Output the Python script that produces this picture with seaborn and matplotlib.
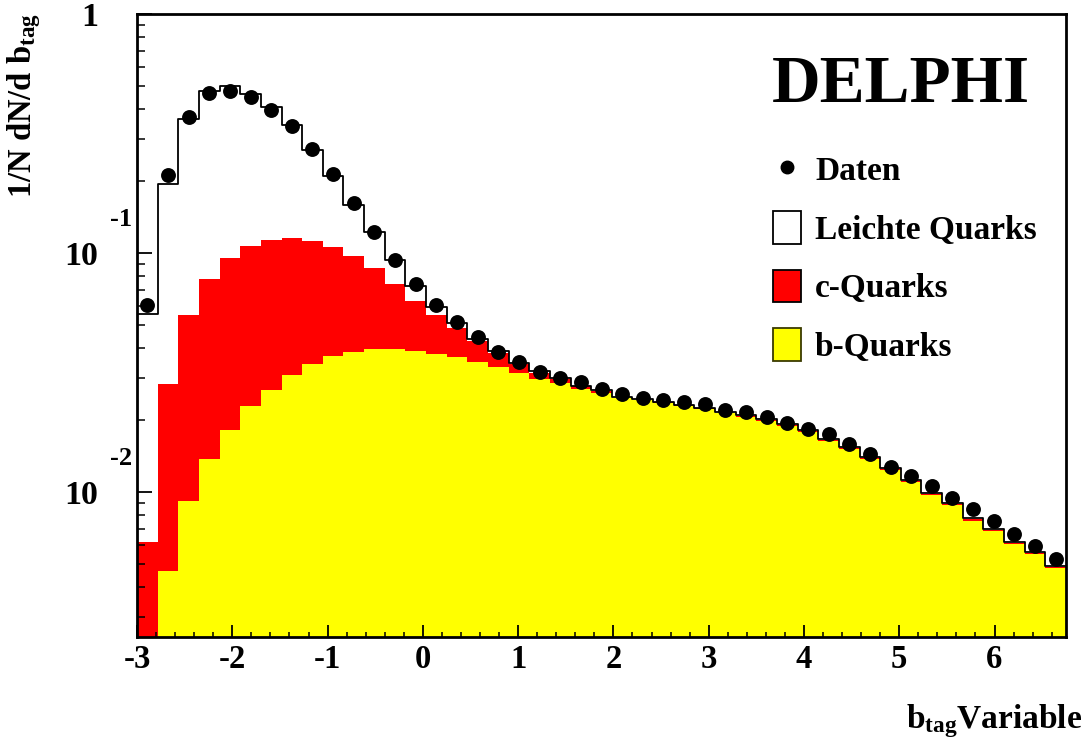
import numpy as np
import pandas as pd
import matplotlib
matplotlib.use("Agg")
import matplotlib.pyplot as plt
import matplotlib.transforms as mtransforms
import seaborn as sns
from matplotlib.lines import Line2D
from matplotlib.patches import Patch
from matplotlib.ticker import FixedLocator, MultipleLocator, NullFormatter

# ---------------- data ----------------
x_min, x_max, n_bins = -3.0, 6.75, 45

b_quarks = [0.0, 0.00467, 0.00917, 0.0137, 0.0181, 0.0228, 0.0268, 0.0308, 0.0342, 0.0370,
            0.0385, 0.0398, 0.0396, 0.0389, 0.0379, 0.0367, 0.0350, 0.0333, 0.0313, 0.0298,
            0.0286, 0.0269, 0.0260, 0.0247, 0.0242, 0.0236, 0.0229, 0.0222, 0.0213, 0.0205,
            0.0198, 0.0188, 0.0178, 0.0164, 0.0151, 0.0137, 0.0124, 0.0110, 0.00971, 0.00882,
            0.00759, 0.00685, 0.00606, 0.00550, 0.00480]

c_quarks = [0.00618, 0.0235, 0.0457, 0.0644, 0.0772, 0.0839, 0.0862, 0.0848, 0.0785, 0.0690,
            0.0584, 0.0465, 0.0344, 0.0241, 0.0170, 0.0119, 0.00784, 0.00497, 0.00316, 0.00166,
            0.00095, 0.00079, 0.00043, 0.00012, 0.00012, 0.00011, 0.00015, 0.00014, 0.00014, 0.00020,
            0.00019, 0.00018, 0.00017, 0.00016, 0.00015, 0.00013, 0.00012, 0.00011, 0.000094, 0.000085,
            0.000074, 0.000066, 0.000059, 0.000053, 0.000046]

light_quarks = [0.0496, 0.166, 0.310, 0.397, 0.403, 0.358, 0.295, 0.226, 0.158, 0.104,
                0.0625, 0.0361, 0.0192, 0.0094, 0.0047, 0.0022, 0.00084, 0.00048, 0.00020, 0.00052,
                0.00028, 0.00010, 0.00025, 0.00012, 0.00011, 0.00011, 0.00015, 0.00014, 0.00014, 0.00020,
                0.00019, 0.00018, 0.00017, 0.00016, 0.00015, 0.00013, 0.00012, 0.00011, 0.000094, 0.000085,
                0.000074, 0.000066, 0.000059, 0.000053, 0.000046]

daten = [0.0604, 0.211, 0.369, 0.465, 0.476, 0.450, 0.398, 0.339, 0.271, 0.214,
         0.162, 0.122, 0.0938, 0.0738, 0.0608, 0.0512, 0.0443, 0.0385, 0.0349, 0.0319,
         0.0299, 0.0288, 0.0269, 0.0258, 0.0247, 0.0243, 0.0237, 0.0233, 0.0221, 0.0215,
         0.0206, 0.0194, 0.0184, 0.0174, 0.0159, 0.0144, 0.0127, 0.0117, 0.0106, 0.00941,
         0.00849, 0.00752, 0.00667, 0.00594, 0.00524]

x_ticks = [-3, -2, -1, 0, 1, 2, 3, 4, 5, 6]
x_tick_labels = ["-3", "-2", "-1", "0", "1", "2", "3", "4", "5", "6"]
y_ticks = [0.01, 0.1, 1.0]
y_tick_labels = ["10", "10", "1"]
y_tick_exponents = ["-2", "-1", ""]
y_limits = (0.00247, 1.0)

legend_labels = ["Daten", "Leichte Quarks", "c-Quarks", "b-Quarks"]
title_text = "DELPHI"
x_title = r"b$_{tag}$Variable"
y_title = r"1/N dN/d b$_{tag}$"

# ---------------- style ----------------
sns.set_style("ticks")
plt.rcParams.update({
    "font.weight": "bold",
    "axes.labelweight": "bold",
    "axes.unicode_minus": False,
    "axes.axisbelow": False,
    "mathtext.fontset": "custom",
    "mathtext.rm": "Liberation Serif:bold",
    "mathtext.it": "Liberation Serif:bold",
    "mathtext.bf": "Liberation Serif:bold",
    "axes.edgecolor": "black",
    "axes.linewidth": 2.0,
    "text.color": "black",
    "axes.labelcolor": "black",
    "xtick.color": "black",
    "ytick.color": "black",
    "xtick.labelcolor": "black",
    "ytick.labelcolor": "black",
})
plt.rcParams["font.family"] = ["Liberation Serif", "DejaVu Serif"]

W, H = 1085, 746
edges = np.linspace(x_min, x_max, n_bins + 1)
centers = 0.5 * (edges[:-1] + edges[1:])
b = np.array(b_quarks)
c = np.array(c_quarks)
l = np.array(light_quarks)
df = pd.DataFrame({
    "center": centers,
    "stack_b": b,
    "stack_bc": b + c,
    "stack_all": b + c + l,
    "daten": daten,
})

fig = plt.figure(figsize=(W / 100, H / 100), dpi=100)
ax = fig.add_axes([137 / W, 1 - 637 / H, (1066 - 137) / W, (637 - 14) / H])
ax.set_yscale("log")
ax.set_axisbelow(False)

hist_kw = dict(data=df, x="center", bins=n_bins, binrange=(x_min, x_max), element="step", ax=ax)
sns.histplot(weights="stack_all", fill=True, color="white", alpha=1, linewidth=0, **hist_kw)
sns.histplot(weights="stack_bc", fill=True, color="#ff0000", alpha=1, linewidth=0, **hist_kw)
sns.histplot(weights="stack_b", fill=True, color="#ffff00", alpha=1, linewidth=0, **hist_kw)
sns.histplot(weights="stack_all", fill=False, color="black", linewidth=1.3, **hist_kw)
sns.scatterplot(data=df, x="center", y="daten", color="black", s=115, linewidth=0, ax=ax,
                zorder=5)

ax.set_xlim(x_min, x_max)
ax.set_ylim(*y_limits)
ax.set_xlabel("")
ax.set_ylabel("")

ax.set_xticks(x_ticks)
ax.set_xticklabels(x_tick_labels)
ax.xaxis.set_minor_locator(MultipleLocator(0.2))
ax.set_yticks(y_ticks)
ax.set_yticklabels(y_tick_labels)
minor_y = [k * 10.0 ** e for e in (-3, -2, -1) for k in range(2, 10)]
ax.yaxis.set_minor_locator(FixedLocator(minor_y))
ax.yaxis.set_minor_formatter(NullFormatter())
ax.set_ylim(*y_limits)
ax.set_axisbelow(False)

ax.tick_params(axis="x", which="major", direction="in", length=8.6, width=1.3,
               labelsize=23.5, pad=5, top=False, color="black", labelcolor="black")
ax.tick_params(axis="x", which="minor", direction="in", length=3.6, width=1.1,
               top=False, color="black")
ax.tick_params(axis="y", which="major", direction="in", length=10.8, width=1.3,
               labelsize=24.5, pad=28, right=False, color="black", labelcolor="black")
ax.tick_params(axis="y", which="minor", direction="in", length=5.8, width=1.1,
               right=False, color="black")
for s in ax.spines.values():
    s.set_visible(True)
    s.set_linewidth(2.0)
    s.set_color("black")
    s.set_zorder(10)

# exponents of the log tick labels (ROOT style)
blend = mtransforms.blended_transform_factory(ax.transAxes, ax.transData)
exp_trans = mtransforms.offset_copy(blend, fig=fig, x=0, y=33, units="dots")
for v, e in zip(y_ticks, y_tick_exponents):
    if e:
        ax.text((121 - 137) / 929, v, e, transform=exp_trans, ha="center", va="center",
                fontsize=19, fontweight="bold", color="black", clip_on=False)

# titles
fig.text(43 / W, 1 - 13 / H, y_title, rotation=90, ha="right", va="top", fontsize=23.5,
         fontweight="bold", color="black")
fig.text(1082 / W, 1 - 728 / H, x_title, ha="right", va="baseline", fontsize=24,
         fontweight="bold", color="black")
fig.text(1030 / W, 1 - 102 / H, title_text, ha="right", va="baseline", fontsize=48.5,
         fontweight="bold", color="black")

# legend
handles = [
    Line2D([], [], marker="o", color="black", linestyle="none", markersize=9),
    Patch(facecolor="white", edgecolor="black", linewidth=1.3),
    Patch(facecolor="#ff0000", edgecolor="black", linewidth=1.3),
    Patch(facecolor="#ffff00", edgecolor="#3a3a00", linewidth=1.3),
]
leg = ax.legend(handles=handles, labels=legend_labels, loc="upper left",
                bbox_to_anchor=(773 / W, 1 - 153 / H), bbox_transform=fig.transFigure,
                frameon=False,
                prop={"family": "Liberation Serif", "weight": "bold", "size": 24},
                handlelength=0.84, handleheight=1.11, handletextpad=0.42, labelspacing=0.72,
                borderpad=0, borderaxespad=0)
for t in leg.get_texts():
    t.set_color("black")

fig.savefig("out.png", dpi=100)
